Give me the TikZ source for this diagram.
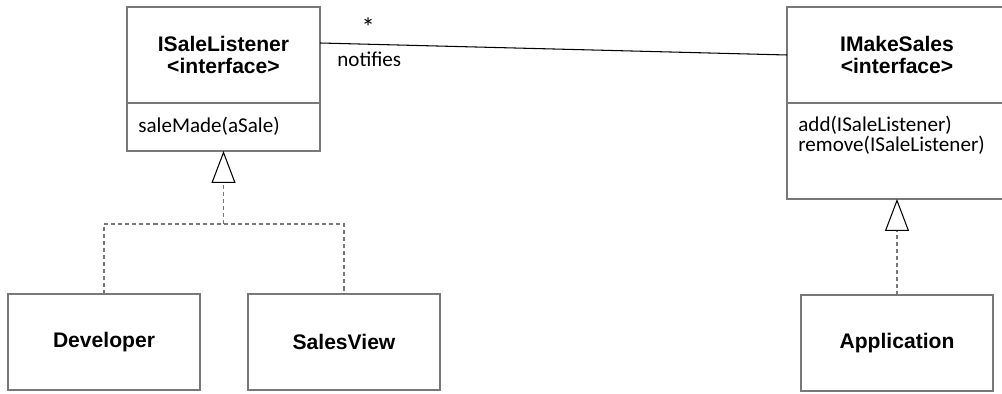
\documentclass[tikz,border=0pt]{standalone}
\usepackage{fontspec}
\setmainfont{Carlito}
\newfontfamily\clsfont{Liberation Sans}
\usetikzlibrary{arrows.meta,positioning}
\newcommand{\PX}{0.02cm}
\definecolor{umlgray}{RGB}{120,120,120}

\begin{document}
\begin{tikzpicture}[
    x=\PX, y=-\PX,
    hd/.style={rectangle, draw=umlgray, line width=0.8pt, inner sep=0pt, outer sep=0pt, align=center,
      font=\clsfont\bfseries\fontsize{12}{12}\selectfont, minimum height={96*\PX}},
    bd/.style={rectangle, draw=umlgray, line width=0.8pt, inner sep=0pt, outer sep=0pt},
    cls/.style={hd, minimum width={192*\PX}},
    mb/.style={inner sep=0pt, anchor=base west, font=\fontsize{12}{12}\selectfont},
    tag/.style={inner sep=0pt, font=\fontsize{12}{12}\selectfont},
    assoc/.style={draw=black, line width=0.6pt},
    real/.style={draw=umlgray, line width=0.85pt, dash pattern=on 2.3pt off 1.7pt},
    tri/.style={-{Triangle[open, color=black, line width=0.6pt, length={32*\PX}, width={24*\PX}]}},
  ]
  % the right class runs off the page edge
  \useasboundingbox (0,0) rectangle (1002,394);
  \clip (0,0) rectangle (1002,394);

  %% ================= listener side =================
  \node[hd, minimum width={193*\PX}, anchor=north west] (lsnHead) at (127,7) {ISaleListener\\<interface>};
  \node[bd, minimum width={193*\PX}, minimum height={48*\PX}, below=0pt of lsnHead] (lsnBody) {};
  \node[mb] (lsnOp) at (138,133) {saleMade(aSale)};

  \node[cls, anchor=north west] (devBox) at (8,294)   {Developer};
  \node[cls, anchor=north west] (svBox)  at (248,294) {SalesView};

  % both classes realize the interface through one shared branch
  \coordinate (lsnJoin) at ([yshift={-73*\PX}]lsnBody.south);
  \draw[real] (devBox.north) |- (lsnJoin) -| (svBox.north);
  \draw[real, tri] (lsnJoin) -- (lsnBody.south);

  %% ================= sales side =================
  \node[hd, minimum width={220*\PX}, anchor=north west] (mkHead) at (787,7) {IMakeSales\\<interface>};
  \node[bd, minimum width={220*\PX}, minimum height={96*\PX}, below=0pt of mkHead] (mkBody) {};
  \node[mb] (mkAdd)    at (798,132) {add(ISaleListener)};
  \node[mb] (mkRemove) at (798,152) {remove(ISaleListener)};

  \node[cls, anchor=north west] (appBox) at (801,295) {Application};
  \draw[real, tri] (appBox.north) -- (mkBody.south);

  % the association between the two interfaces
  \draw[assoc] ([yshift={12*\PX}]lsnHead.east) -- (mkHead.west)
    node[tag, pos=0.103, anchor=base, yshift={8*\PX}, font=\fontsize{15}{15}\selectfont] (assocMult) {*}
    node[tag, pos=0.036, anchor=base west, yshift={-23*\PX}] (assocName) {notifies};

\end{tikzpicture}
\end{document}
